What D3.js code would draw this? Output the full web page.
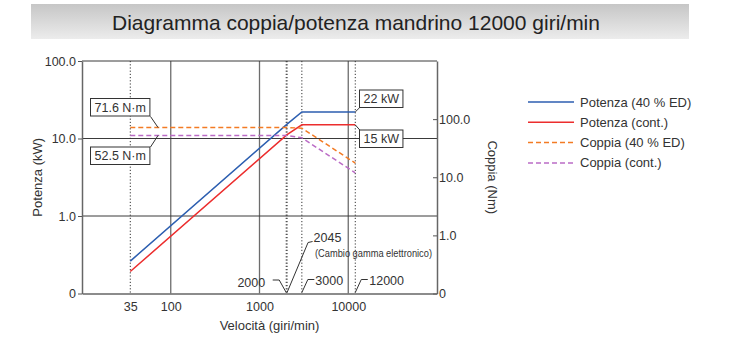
<!DOCTYPE html>
<html>
<head>
<meta charset="utf-8">
<script src="https://cdn.jsdelivr.net/npm/d3@7"></script>
<style>
  body { margin: 0; background: #fff; }
  text { font-family: "Liberation Sans", Arial, sans-serif; fill: #333; }
</style>
</head>
<body>
<div id="chart"></div>
<script>
const FRAME_WIDTH = 733;
const FRAME_HEIGHT = 338;
const MARGINS = {left: 82, right: 296, top: 61, bottom: 45};

// data (speed in giri/min, power in kW, torque in N·m)
const SPEEDS = [35, 2045, 3000, 12000];
const POWER_40ED = [0.262, 15.3, 22, 22];
const POWER_CONT = [0.192, 11.2, 15, 15];
const TORQUE_40ED = [71.6, 71.6, 70, 17.5];
const TORQUE_CONT = [52.5, 52.5, 47.7, 11.9];

const X_TICKS = [35, 100, 1000, 10000];
const X_GRID = [100, 1000, 10000];
const Y_TICKS = [0.1, 1, 10, 100];
const Y_TICK_LABELS = ["0", "1.0", "10.0", "100.0"];
const MARKED_SPEEDS = [35, 2000, 2045, 3000, 12000];

const SERIES_NAMES = ["Potenza (40 % ED)", "Potenza (cont.)", "Coppia (40 % ED)", "Coppia (cont.)"];
const SERIES_COLORS = ["#2c5eb0", "#ec2d2d", "#f37b24", "#bb6cc6"];

const FRAME = d3.select("#chart")
  .append("svg")
    .attr("width", FRAME_WIDTH)
    .attr("height", FRAME_HEIGHT);

// title band
const grad = FRAME.append("defs").append("linearGradient")
    .attr("id", "band").attr("x1", 0).attr("y1", 0).attr("x2", 0).attr("y2", 1);
grad.append("stop").attr("offset", "0%").attr("stop-color", "#c6c6c6");
grad.append("stop").attr("offset", "100%").attr("stop-color", "#ececec");

FRAME.append("rect")
    .attr("x", 31).attr("y", 4).attr("width", 658).attr("height", 35)
    .attr("fill", "url(#band)");

FRAME.append("text")
    .attr("x", 356).attr("y", 30)
    .attr("text-anchor", "middle")
    .attr("font-size", "21px")
    .style("fill", "#222")
    .text("Diagramma coppia/potenza mandrino 12000 giri/min");

// scales
const PLOT_RIGHT = FRAME_WIDTH - MARGINS.right;
const PLOT_BOTTOM = FRAME_HEIGHT - MARGINS.bottom + 0.5;

const X_SCALE = d3.scaleLog().domain([10, 100000]).range([MARGINS.left, PLOT_RIGHT]);
const Y_POWER = d3.scaleLog().domain([0.1, 100]).range([PLOT_BOTTOM, MARGINS.top]);
const Y_TORQUE = d3.scaleLog().domain([0.1, 1000]).range([PLOT_BOTTOM, MARGINS.top]);

// grid
FRAME.selectAll(".vgrid")
  .data(X_GRID)
  .enter()
  .append("line")
    .attr("x1", d => X_SCALE(d)).attr("x2", d => X_SCALE(d))
    .attr("y1", MARGINS.top).attr("y2", PLOT_BOTTOM)
    .attr("stroke", "#6d6d6d").attr("stroke-width", 1.3);

FRAME.selectAll(".hgrid")
  .data([1, 10, 100])
  .enter()
  .append("line")
    .attr("x1", MARGINS.left).attr("x2", PLOT_RIGHT)
    .attr("y1", d => Y_POWER(d)).attr("y2", d => Y_POWER(d))
    .attr("stroke", "#3a3a3a").attr("stroke-width", 1);

FRAME.selectAll(".marker")
  .data(MARKED_SPEEDS)
  .enter()
  .append("line")
    .attr("x1", d => X_SCALE(d)).attr("x2", d => X_SCALE(d))
    .attr("y1", MARGINS.top).attr("y2", PLOT_BOTTOM)
    .attr("stroke", "#333").attr("stroke-width", 1)
    .attr("stroke-dasharray", "1.2,2");

// axes
const styleAxis = (g) => {
  g.selectAll(".domain").attr("stroke", "#666").attr("stroke-width", 1.5);
  g.selectAll(".tick line").attr("stroke", "#555");
  g.selectAll("text").attr("font-size", "12.5px").attr("font-family", null).style("fill", "#333");
};

FRAME.append("g")
    .attr("transform", "translate(" + MARGINS.left + ",0)")
    .call(d3.axisLeft(Y_POWER).tickValues(Y_TICKS)
      .tickFormat((d, i) => Y_TICK_LABELS[i]).tickSizeInner(4).tickSizeOuter(0).tickPadding(2))
    .call(styleAxis);

FRAME.append("g")
    .attr("transform", "translate(" + PLOT_RIGHT + ",0)")
    .call(d3.axisRight(Y_TORQUE).tickValues(Y_TICKS)
      .tickFormat((d, i) => Y_TICK_LABELS[i]).tickSizeInner(-4).tickSizeOuter(0).tickPadding(2))
    .call(styleAxis);

FRAME.append("g")
    .attr("transform", "translate(0," + PLOT_BOTTOM + ")")
    .call(d3.axisBottom(X_SCALE).tickValues(X_TICKS)
      .tickFormat(d3.format("d")).tickSize(0).tickPadding(9))
    .call(styleAxis);

// axis titles
FRAME.append("text")
    .attr("transform", "translate(42," + ((MARGINS.top + PLOT_BOTTOM) / 2) + ") rotate(-90)")
    .attr("text-anchor", "middle")
    .attr("font-size", "13px")
    .text("Potenza (kW)");

FRAME.append("text")
    .attr("transform", "translate(488," + ((MARGINS.top + PLOT_BOTTOM) / 2) + ") rotate(90)")
    .attr("text-anchor", "middle")
    .attr("font-size", "13px")
    .text("Coppia (Nm)");

FRAME.append("text")
    .attr("x", (MARGINS.left + PLOT_RIGHT) / 2 + 10).attr("y", 330)
    .attr("text-anchor", "middle")
    .attr("font-size", "13px")
    .text("Velocità (giri/min)");

// curves
const SERIES = [
  {values: POWER_40ED, y: Y_POWER, dash: null},
  {values: POWER_CONT, y: Y_POWER, dash: null},
  {values: TORQUE_40ED, y: Y_TORQUE, dash: "5,3"},
  {values: TORQUE_CONT, y: Y_TORQUE, dash: "5,3"}
];

SERIES.forEach((s, i) => {
  const line = d3.line()
    .x((d, j) => X_SCALE(SPEEDS[j]))
    .y(d => s.y(d));
  FRAME.append("path")
      .datum(s.values)
      .attr("d", line)
      .attr("fill", "none")
      .attr("stroke", SERIES_COLORS[i])
      .attr("stroke-width", 1.5)
      .attr("stroke-dasharray", s.dash);
});

// boxed labels with leader lines
function boxLabel(label, ax, ay, bx, by, boxX, boxY) {
  FRAME.append("path")
      .attr("d", "M" + ax + "," + ay + "L" + bx + "," + by)
      .attr("stroke", "#333").attr("fill", "none").attr("stroke-width", 1);
  const g = FRAME.append("g");
  const t = g.append("text")
      .attr("font-size", "12.5px")
      .attr("x", boxX + 4).attr("y", boxY + 13)
      .text(label);
  const w = t.node().getComputedTextLength() + 8;
  g.insert("rect", "text")
      .attr("x", boxX).attr("y", boxY)
      .attr("width", w).attr("height", 17.5)
      .attr("fill", "#fff").attr("stroke", "#333").attr("stroke-width", 1);
}

const xLeft = X_SCALE(72);
boxLabel("71.6 N·m", xLeft, Y_TORQUE(TORQUE_40ED[0]), 150.5, 116.5, 90.5, 98.5);
boxLabel("52.5 N·m", xLeft, Y_TORQUE(TORQUE_CONT[0]), 150.5, 147, 90.5, 147);

const xEnd = X_SCALE(SPEEDS[3]);
boxLabel("22 kW", xEnd, Y_POWER(POWER_40ED[3]), xEnd + 4.5, 107.5, 359.5, 90);
boxLabel("15 kW", xEnd, Y_POWER(POWER_CONT[3]), xEnd + 4.5, 130, 359.5, 130);

// speed annotations along the bottom
const leader = (pts) => FRAME.append("path")
    .attr("d", d3.line()(pts))
    .attr("stroke", "#333").attr("fill", "none").attr("stroke-width", 1);

const small = (x, y, txt, anchor) => FRAME.append("text")
    .attr("x", x).attr("y", y)
    .attr("text-anchor", anchor || "start")
    .attr("font-size", "12.5px")
    .text(txt);

let ax = X_SCALE(2000);
leader([[ax, PLOT_BOTTOM - 1], [ax - 7, 280], [ax - 13.5, 280]]);
small(ax - 21, 286.5, "2000", "end");

ax = X_SCALE(2045);
leader([[ax, PLOT_BOTTOM - 1], [ax + 21, 242.5], [ax + 25.5, 241.5]]);
small(ax + 26.5, 241.5, "2045");
FRAME.append("text")
    .attr("x", 315).attr("y", 257)
    .attr("font-size", "10px")
    .attr("textLength", 117).attr("lengthAdjust", "spacingAndGlyphs")
    .text("(Cambio gamma elettronico)");

ax = X_SCALE(3000);
leader([[ax, PLOT_BOTTOM - 1], [ax + 6, 279.5], [ax + 12.5, 279.5]]);
small(ax + 13.5, 285, "3000");

ax = X_SCALE(12000);
leader([[ax, PLOT_BOTTOM - 1], [ax + 6, 279.5], [ax + 12.5, 279.5]]);
small(ax + 14, 285, "12000");

// legend
const LEGEND = FRAME.append("g").attr("transform", "translate(528,102)");
SERIES_NAMES.forEach((name, i) => {
  const y = i * 20.3;
  LEGEND.append("line")
      .attr("x1", 0).attr("x2", 46)
      .attr("y1", y).attr("y2", y)
      .attr("stroke", SERIES_COLORS[i]).attr("stroke-width", 1.5)
      .attr("stroke-dasharray", SERIES[i].dash);
  LEGEND.append("text")
      .attr("x", 52).attr("y", y).attr("dy", "0.35em")
      .attr("font-size", "13px")
      .text(name);
});
</script>
</body>
</html>
